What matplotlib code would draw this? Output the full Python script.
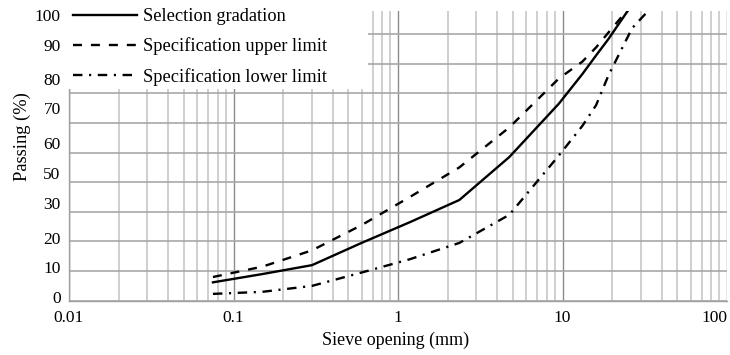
import matplotlib
matplotlib.use('Agg')
import matplotlib.pyplot as plt
from matplotlib.patches import Rectangle
from matplotlib.ticker import LogLocator, NullFormatter, FixedLocator

plt.rcParams['font.family'] = ['Liberation Serif', 'DejaVu Serif']

# gradation data (sieve size in mm, passing in %)
sieve = [0.075, 0.15, 0.3, 0.6, 1.18, 2.36, 4.75, 9.5, 13.2, 16, 19, 26.5, 31.5]
selection = [6.2, 9, 12, 19.5, 26.5, 34, 48.5, 66.5, 76.5, 82.8, 88.3, 100, 100]

upper_sieve = [0.075, 0.15, 0.3, 0.6, 1.18, 2.36, 4.75, 9.5, 13.2, 16, 19, 26.5]
upper = [8, 11.5, 17, 25.5, 35, 45, 58.5, 75, 80.7, 85.5, 90.5, 100]

lower_sieve = [0.075, 0.15, 0.3, 0.6, 1.18, 2.36, 4.75, 9.5, 13.2, 16, 19, 26.5, 31.5, 37.5]
lower = [2.3, 3, 5, 9.5, 14, 19.5, 29, 49, 59, 66, 76, 92, 96.5, 100]

# y labels as they sit in the original picture
ytick_pos = [1.3, 11.4, 21.3, 33.0, 43.1, 53.2, 65.1, 74.8, 86.3, 96.4]
ytick_lab = ['0', '10', '20', '30', '50', '60', '70', '80', '90', '100']
xtick_pos = [0.01, 0.1, 1, 10, 100]
xtick_lab = ['0.01', '0.1', '1', '10', '100']

W, H = 730, 355
fig = plt.figure(figsize=(W / 100, H / 100), dpi=100)
ax = fig.add_axes([69 / W, 1 - 300.7 / H, 658 / W, 289.7 / H])

ax.set_xscale('log')
ax.set_xlim(0.01, 100)
ax.set_ylim(0, 97.8)

# grid
ax.xaxis.set_major_locator(FixedLocator(xtick_pos))
ax.set_xticklabels(xtick_lab)
ax.xaxis.set_minor_locator(LogLocator(base=10, subs=range(2, 10)))
ax.xaxis.set_minor_formatter(NullFormatter())
ax.set_yticks(ytick_pos, ytick_lab)
ax.yaxis.set_minor_locator(FixedLocator(range(0, 101, 10)))

ax.grid(False)
ax.grid(True, axis='x', which='major', color='#8c8c8c', lw=1.0)
ax.grid(True, axis='x', which='minor', color='#cccccc', lw=1.3)
ax.grid(True, axis='y', which='minor', color='#a8a8a8', lw=1.2)
ax.set_axisbelow(True)

ax.tick_params(which='both', length=0, labelsize=12.5)
ax.tick_params(axis='x', pad=7)
ax.tick_params(axis='y', pad=6)
# last x label sits at the right edge of the picture
ax.get_xticklabels()[-1].set_horizontalalignment('right')

for s in ['top', 'right']:
    ax.spines[s].set_visible(False)
for s in ['left', 'bottom']:
    ax.spines[s].set_color('#a0a0a0')
    ax.spines[s].set_linewidth(1.0)

l1, = ax.plot(sieve, selection, color='black', lw=1.7, label='Selection gradation')
l2, = ax.plot(upper_sieve, upper, color='black', lw=1.7, dashes=(3.8, 3.8),
              label='Specification upper limit')
l3, = ax.plot(lower_sieve, lower, color='black', lw=1.7, dashes=(4.0, 2.8, 0.9, 2.8),
              label='Specification lower limit')

# white patch under the legend
fig.add_artist(Rectangle((66 / W, 1 - 89 / H), (368 - 66) / W, 89 / H,
                         transform=fig.transFigure, facecolor='white',
                         edgecolor='none', zorder=3))

fig.legend(handles=[l1, l2, l3], loc='upper left',
           bbox_to_anchor=(73 / W, 1 - 8 / H), frameon=False,
           fontsize=13.2, handlelength=3.5, handletextpad=0.3,
           labelspacing=0.68, borderpad=0, borderaxespad=0)

fig.text(396 / W, 1 - 340 / H, 'Sieve opening (mm)', ha='center', va='center', fontsize=13)
fig.text(22 / W, 1 - 137 / H, 'Passing (%)', ha='center', va='center',
         rotation=90, fontsize=13.3)

fig.savefig('out.png', dpi=100)
